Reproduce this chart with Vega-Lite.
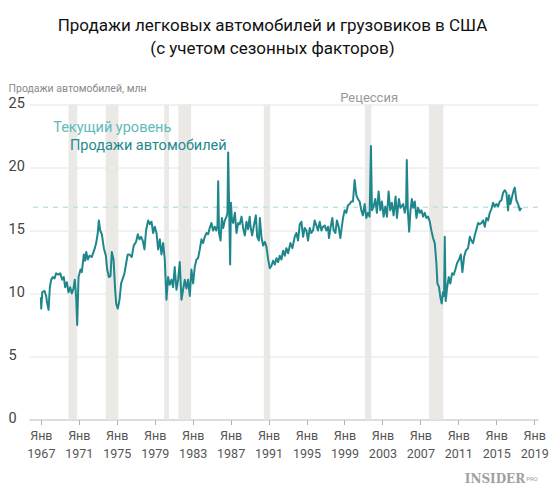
{
  "$schema": "https://vega.github.io/schema/vega-lite/v6.json",
  "width": 509,
  "height": 315,
  "autosize": {"type": "none"},
  "padding": {"left": 29, "top": 104.5, "right": 12, "bottom": 69.5},
  "background": "white",
  "config": {"font": "Roboto", "view": {"stroke": null}, "axisX": {"labelOverlap": false, "labelFlush": false, "labelBound": false}},
  "title": {
    "text": ["Продажи легковых автомобилей и грузовиков в США", "(с учетом сезонных факторов)"],
    "fontSize": 17, "font": "Roboto", "fontWeight": "normal", "color": "#111111",
    "anchor": "middle", "frame": "group", "lineHeight": 23, "offset": 26, "dx": -11
  },
  "datasets": {
    "rec": [
      {"s": 1969.92, "e": 1970.83},
      {"s": 1973.83, "e": 1975.17},
      {"s": 1980.0, "e": 1980.5},
      {"s": 1981.5, "e": 1982.83},
      {"s": 1990.5, "e": 1991.17},
      {"s": 2001.17, "e": 2001.83},
      {"s": 2007.92, "e": 2009.42}
    ],
    "sales": [
      {"d":1967.0,"v":9.7},{"d":1967.04,"v":8.8},{"d":1967.15,"v":10.1},{"d":1967.39,"v":10.2},{"d":1967.56,"v":9.8},{"d":1967.67,"v":9.2},{"d":1967.81,"v":8.7},{"d":1967.95,"v":10.5},
      {"d":1968.09,"v":11.1},{"d":1968.26,"v":11.3},{"d":1968.44,"v":11.2},{"d":1968.61,"v":11.6},{"d":1968.86,"v":11.5},{"d":1969.04,"v":11.6},{"d":1969.25,"v":11.1},{"d":1969.42,"v":11.3},
      {"d":1969.56,"v":10.5},{"d":1969.74,"v":10.9},{"d":1969.91,"v":10.1},{"d":1970.09,"v":10.5},{"d":1970.26,"v":10.0},{"d":1970.44,"v":10.4},{"d":1970.58,"v":11.1},{"d":1970.72,"v":9.7},
      {"d":1970.83,"v":7.5},{"d":1970.97,"v":11.3},{"d":1971.18,"v":11.9},{"d":1971.32,"v":11.7},{"d":1971.53,"v":13.1},{"d":1971.67,"v":12.6},{"d":1971.78,"v":13.3},{"d":1971.95,"v":12.7},
      {"d":1972.13,"v":13.0},{"d":1972.37,"v":12.9},{"d":1972.65,"v":13.5},{"d":1972.83,"v":14.0},{"d":1973.0,"v":14.8},{"d":1973.11,"v":15.8},{"d":1973.25,"v":15.0},{"d":1973.43,"v":14.7},
      {"d":1973.64,"v":13.6},{"d":1973.85,"v":13.0},{"d":1973.99,"v":11.9},{"d":1974.17,"v":11.3},{"d":1974.34,"v":11.4},{"d":1974.48,"v":13.3},{"d":1974.66,"v":12.7},{"d":1974.83,"v":10.3},
      {"d":1974.94,"v":9.2},{"d":1975.11,"v":8.8},{"d":1975.29,"v":9.5},{"d":1975.46,"v":10.8},{"d":1975.64,"v":11.2},{"d":1975.81,"v":11.6},{"d":1975.99,"v":12.4},{"d":1976.16,"v":13.1},
      {"d":1976.34,"v":13.1},{"d":1976.58,"v":12.9},{"d":1976.79,"v":13.8},{"d":1977.04,"v":14.1},{"d":1977.22,"v":14.7},{"d":1977.39,"v":14.3},{"d":1977.57,"v":14.5},{"d":1977.74,"v":14.2},
      {"d":1977.92,"v":13.5},{"d":1978.09,"v":15.0},{"d":1978.31,"v":15.8},{"d":1978.48,"v":15.5},{"d":1978.66,"v":15.7},{"d":1978.84,"v":14.8},{"d":1979.01,"v":15.3},{"d":1979.19,"v":14.8},
      {"d":1979.36,"v":13.5},{"d":1979.54,"v":14.3},{"d":1979.71,"v":13.1},{"d":1979.89,"v":14.0},{"d":1980.06,"v":12.7},{"d":1980.24,"v":9.5},{"d":1980.41,"v":11.3},{"d":1980.59,"v":10.7},
      {"d":1980.77,"v":11.1},{"d":1980.94,"v":10.5},{"d":1981.11,"v":12.1},{"d":1981.29,"v":10.3},{"d":1981.47,"v":11.1},{"d":1981.64,"v":12.5},{"d":1981.82,"v":9.5},{"d":1981.99,"v":10.3},
      {"d":1982.17,"v":11.1},{"d":1982.35,"v":10.4},{"d":1982.52,"v":11.1},{"d":1982.7,"v":9.8},{"d":1982.87,"v":11.9},{"d":1983.05,"v":10.8},{"d":1983.22,"v":12.1},{"d":1983.4,"v":12.7},
      {"d":1983.57,"v":12.8},{"d":1983.75,"v":13.5},{"d":1983.93,"v":14.3},{"d":1984.1,"v":14.0},{"d":1984.28,"v":14.5},{"d":1984.45,"v":14.8},{"d":1984.63,"v":14.7},{"d":1984.8,"v":15.2},
      {"d":1984.98,"v":15.6},{"d":1985.15,"v":15.0},{"d":1985.33,"v":15.3},{"d":1985.5,"v":15.0},{"d":1985.62,"v":15.4},{"d":1985.69,"v":18.9},{"d":1985.78,"v":14.8},{"d":1985.94,"v":14.2},
      {"d":1986.08,"v":16.0},{"d":1986.22,"v":15.2},{"d":1986.39,"v":15.8},{"d":1986.57,"v":16.1},{"d":1986.67,"v":16.4},{"d":1986.74,"v":21.2},{"d":1986.85,"v":16.6},{"d":1986.95,"v":12.3},
      {"d":1987.04,"v":17.2},{"d":1987.13,"v":15.9},{"d":1987.27,"v":15.6},{"d":1987.45,"v":16.4},{"d":1987.62,"v":14.8},{"d":1987.8,"v":15.6},{"d":1987.97,"v":15.5},{"d":1988.15,"v":16.1},
      {"d":1988.32,"v":15.2},{"d":1988.5,"v":14.6},{"d":1988.67,"v":15.7},{"d":1988.84,"v":15.1},{"d":1989.01,"v":16.1},{"d":1989.1,"v":15.3},{"d":1989.27,"v":14.6},{"d":1989.45,"v":15.4},
      {"d":1989.66,"v":16.2},{"d":1989.8,"v":14.5},{"d":1989.98,"v":14.2},{"d":1990.08,"v":16.0},{"d":1990.26,"v":14.4},{"d":1990.43,"v":13.8},{"d":1990.61,"v":14.1},{"d":1990.78,"v":13.7},
      {"d":1990.96,"v":12.7},{"d":1991.13,"v":12.0},{"d":1991.31,"v":12.2},{"d":1991.48,"v":12.6},{"d":1991.66,"v":12.3},{"d":1991.83,"v":12.8},{"d":1992.01,"v":12.5},{"d":1992.18,"v":13.0},
      {"d":1992.36,"v":12.7},{"d":1992.53,"v":13.4},{"d":1992.71,"v":13.0},{"d":1992.88,"v":13.6},{"d":1993.06,"v":13.2},{"d":1993.3,"v":14.0},{"d":1993.51,"v":13.6},{"d":1993.76,"v":14.5},
      {"d":1993.93,"v":14.8},{"d":1994.11,"v":14.2},{"d":1994.29,"v":15.5},{"d":1994.46,"v":15.7},{"d":1994.64,"v":14.5},{"d":1994.81,"v":15.2},{"d":1994.99,"v":15.0},{"d":1995.16,"v":14.2},
      {"d":1995.34,"v":15.2},{"d":1995.51,"v":14.8},{"d":1995.69,"v":15.0},{"d":1995.86,"v":15.8},{"d":1996.04,"v":15.4},{"d":1996.21,"v":15.0},{"d":1996.39,"v":15.7},{"d":1996.57,"v":15.0},
      {"d":1996.74,"v":15.3},{"d":1996.92,"v":15.4},{"d":1997.09,"v":15.0},{"d":1997.27,"v":15.3},{"d":1997.37,"v":14.4},{"d":1997.55,"v":15.3},{"d":1997.72,"v":16.0},{"d":1997.86,"v":15.0},
      {"d":1998.04,"v":14.8},{"d":1998.21,"v":15.8},{"d":1998.39,"v":15.3},{"d":1998.57,"v":14.4},{"d":1998.67,"v":15.0},{"d":1998.85,"v":16.0},{"d":1999.02,"v":16.6},{"d":1999.2,"v":16.4},
      {"d":1999.37,"v":17.0},{"d":1999.55,"v":17.1},{"d":1999.72,"v":17.3},{"d":1999.9,"v":17.3},{"d":2000.07,"v":19.0},{"d":2000.25,"v":17.8},{"d":2000.42,"v":17.5},{"d":2000.6,"v":17.3},
      {"d":2000.78,"v":16.6},{"d":2000.95,"v":16.2},{"d":2001.13,"v":17.1},{"d":2001.3,"v":16.0},{"d":2001.48,"v":16.4},{"d":2001.65,"v":16.1},{"d":2001.79,"v":21.7},{"d":2001.9,"v":16.6},
      {"d":2002.07,"v":16.9},{"d":2002.25,"v":17.5},{"d":2002.42,"v":16.4},{"d":2002.6,"v":18.1},{"d":2002.78,"v":16.6},{"d":2002.95,"v":17.3},{"d":2003.13,"v":16.1},{"d":2003.3,"v":16.9},
      {"d":2003.48,"v":16.1},{"d":2003.65,"v":18.1},{"d":2003.83,"v":16.6},{"d":2004.0,"v":17.2},{"d":2004.18,"v":16.2},{"d":2004.39,"v":17.7},{"d":2004.53,"v":16.0},{"d":2004.74,"v":17.5},
      {"d":2004.9,"v":16.8},{"d":2005.01,"v":16.9},{"d":2005.19,"v":17.1},{"d":2005.36,"v":16.4},{"d":2005.5,"v":17.0},{"d":2005.57,"v":20.6},{"d":2005.68,"v":16.6},{"d":2005.82,"v":14.9},
      {"d":2005.96,"v":16.6},{"d":2006.1,"v":17.5},{"d":2006.24,"v":16.8},{"d":2006.41,"v":17.3},{"d":2006.59,"v":16.0},{"d":2006.76,"v":16.8},{"d":2006.94,"v":16.4},{"d":2007.11,"v":16.6},
      {"d":2007.29,"v":16.1},{"d":2007.46,"v":16.4},{"d":2007.64,"v":16.0},{"d":2007.81,"v":16.1},{"d":2007.99,"v":15.7},{"d":2008.16,"v":15.0},{"d":2008.34,"v":14.4},{"d":2008.52,"v":14.0},
      {"d":2008.69,"v":12.4},{"d":2008.8,"v":10.8},{"d":2008.97,"v":10.5},{"d":2009.11,"v":9.7},{"d":2009.25,"v":9.2},{"d":2009.39,"v":10.1},{"d":2009.5,"v":9.8},{"d":2009.57,"v":14.5},
      {"d":2009.67,"v":9.4},{"d":2009.81,"v":10.4},{"d":2009.99,"v":11.3},{"d":2010.16,"v":10.8},{"d":2010.34,"v":11.6},{"d":2010.52,"v":11.5},{"d":2010.69,"v":11.9},{"d":2010.87,"v":12.4},
      {"d":2011.08,"v":12.7},{"d":2011.26,"v":13.1},{"d":2011.43,"v":11.7},{"d":2011.61,"v":12.9},{"d":2011.79,"v":13.4},{"d":2012.03,"v":13.6},{"d":2012.21,"v":14.5},{"d":2012.38,"v":14.2},
      {"d":2012.56,"v":14.0},{"d":2012.73,"v":14.6},{"d":2012.91,"v":15.1},{"d":2013.09,"v":15.6},{"d":2013.26,"v":15.5},{"d":2013.44,"v":15.6},{"d":2013.61,"v":15.8},{"d":2013.79,"v":15.3},
      {"d":2013.96,"v":16.0},{"d":2014.14,"v":15.8},{"d":2014.31,"v":16.4},{"d":2014.49,"v":16.7},{"d":2014.67,"v":17.2},{"d":2014.84,"v":16.9},{"d":2015.02,"v":17.1},{"d":2015.2,"v":16.9},
      {"d":2015.37,"v":17.3},{"d":2015.55,"v":17.4},{"d":2015.72,"v":18.0},{"d":2015.9,"v":18.2},{"d":2016.07,"v":18.0},{"d":2016.25,"v":16.6},{"d":2016.35,"v":17.8},{"d":2016.49,"v":17.1},
      {"d":2016.67,"v":17.7},{"d":2016.84,"v":18.2},{"d":2016.95,"v":18.4},{"d":2017.12,"v":17.4},{"d":2017.3,"v":17.1},{"d":2017.47,"v":16.6},{"d":2017.65,"v":16.8}
    ],
    "labels": [
      {"d": 1968.3, "v": 23.1, "t": "Текущий уровень", "k": "cur"},
      {"d": 1970.06, "v": 21.7, "t": "Продажи автомобилей", "k": "sales"}
    ]
  },
  "layer": [
    {
      "data": {"name": "rec"},
      "mark": {"type": "rect", "color": "#ebe9e6"},
      "encoding": {
        "x": {"field": "s", "type": "quantitative", "scale": {"domain": [1965.75, 2019.4], "nice": false, "zero": false},
          "axis": {
            "values": [1967, 1971, 1975, 1979, 1983, 1987, 1991, 1995, 1999, 2003, 2007, 2011, 2015, 2019],
            "tickCount": 30,
            "labelExpr": "['Янв', '' + datum.value]",
            "title": null, "grid": false,
            "domainColor": "#c8c8c8", "tickColor": "#b0b0b0", "tickSize": 5,
            "labelColor": "#555555", "labelFontSize": 12.5, "labelLineHeight": 18,
            "labelPadding": 5, "labelFont": "Roboto", "labelFlush": false, "labelOverlap": false, "labelBound": false
          }
        },
        "x2": {"field": "e"}
      }
    },
    {
      "data": {"values": [{"v": 16.85}]},
      "mark": {"type": "rule", "color": "#bfe2e2", "strokeDash": [5, 5], "strokeWidth": 1.5},
      "encoding": {"y": {"field": "v", "type": "quantitative"}}
    },
    {
      "data": {"name": "sales"},
      "mark": {"type": "line", "color": "#1f878c", "strokeWidth": 2, "strokeJoin": "round"},
      "encoding": {
        "x": {"field": "d", "type": "quantitative",
          "axis": {
            "values": [1967, 1971, 1975, 1979, 1983, 1987, 1991, 1995, 1999, 2003, 2007, 2011, 2015, 2019],
            "tickCount": 30,
            "labelExpr": "['Янв', '' + datum.value]",
            "title": null, "grid": false,
            "domainColor": "#c8c8c8", "tickColor": "#b0b0b0", "tickSize": 5,
            "labelColor": "#555555", "labelFontSize": 12.5, "labelLineHeight": 18,
            "labelPadding": 5, "labelFont": "Roboto", "labelFlush": false, "labelOverlap": false, "labelBound": false
          }
        },
        "y": {"field": "v", "type": "quantitative",
          "scale": {"domain": [0, 25], "nice": false},
          "axis": {
            "values": [0, 5, 10, 15, 20, 25],
            "title": "Продажи автомобилей, млн",
            "titleAngle": 0, "titleAlign": "left", "titleBaseline": "middle",
            "titleX": -21, "titleY": -16, "titleFontSize": 10.5, "titleFontWeight": "normal",
            "titleColor": "#8a8a8a", "titleFont": "Roboto",
            "grid": true, "gridColor": "#e4e4e4", "domain": false, "ticks": false, "tickSize": 0,
            "labelAlign": "left", "labelPadding": 21, "labelBaseline": "middle", "labelOffset": -1,
            "labelFontSize": 14.5, "labelColor": "#444444", "labelFont": "Roboto"
          }
        }
      }
    },
    {
      "data": {"name": "labels"},
      "mark": {"type": "text", "align": "left", "baseline": "middle", "fontSize": 14.5, "font": "Roboto"},
      "encoding": {
        "x": {"field": "d", "type": "quantitative"},
        "y": {"field": "v", "type": "quantitative"},
        "text": {"field": "t"},
        "color": {"field": "k", "type": "nominal", "scale": {"domain": ["cur", "sales"], "range": ["#62baba", "#23898e"]}, "legend": null}
      }
    },
    {
      "data": {"values": [{"d": 2001.6, "v": 25.5, "t": "Рецессия"}]},
      "mark": {"type": "text", "align": "center", "baseline": "middle", "fontSize": 13, "font": "Roboto", "color": "#9a9a9a", "clip": false},
      "encoding": {
        "x": {"field": "d", "type": "quantitative"},
        "y": {"field": "v", "type": "quantitative"},
        "text": {"field": "t"}
      }
    },
    {
      "data": {"values": [{"d": 2018.05, "v": -4.7, "t": "INSIDER"}]},
      "mark": {"type": "text", "align": "right", "baseline": "middle", "fontSize": 12, "font": "DejaVu Serif", "fontWeight": "bold", "color": "#a0a0a0", "clip": false},
      "encoding": {
        "x": {"field": "d", "type": "quantitative"},
        "y": {"field": "v", "type": "quantitative"},
        "text": {"field": "t"}
      }
    },
    {
      "data": {"values": [{"d": 2018.15, "v": -4.7, "t": "PRO"}]},
      "mark": {"type": "text", "align": "left", "baseline": "middle", "fontSize": 6, "font": "Roboto", "color": "#a0a0a0", "clip": false},
      "encoding": {
        "x": {"field": "d", "type": "quantitative"},
        "y": {"field": "v", "type": "quantitative"},
        "text": {"field": "t"}
      }
    }
  ]
}
